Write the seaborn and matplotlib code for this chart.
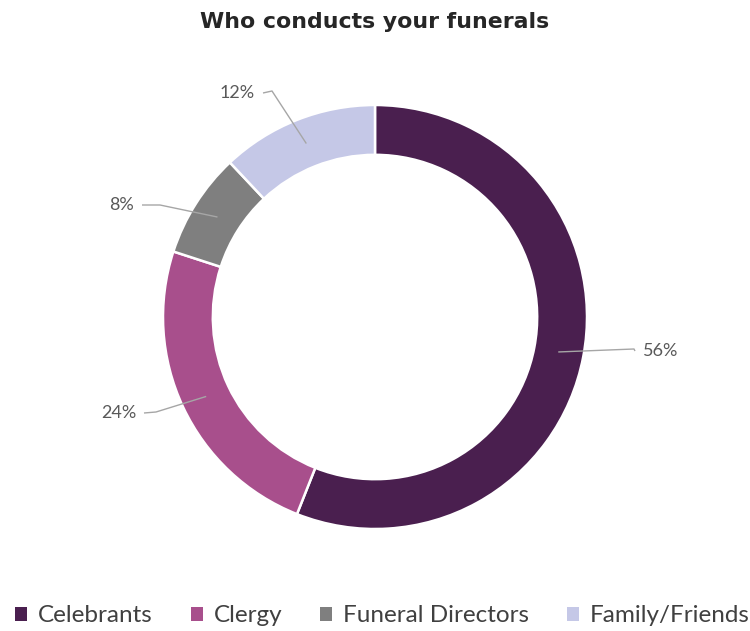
import matplotlib
matplotlib.use("Agg")
import matplotlib.pyplot as plt
import matplotlib.patches as mpatches
import numpy as np
import seaborn as sns

categories = ["Celebrants", "Clergy", "Funeral Directors", "Family/Friends"]
shares = [56, 24, 8, 12]
pct_labels = ["56%", "24%", "8%", "12%"]
colors = ["#4a1f4f", "#a84f8c", "#7f7f7f", "#c5c8e7"]

sns.set_theme(style="white")
label_font = ["Lato", "Liberation Sans", "DejaVu Sans"]
plt.rcParams["font.family"] = label_font

W, H = 750, 631
fig = plt.figure(figsize=(W / 100, H / 100), dpi=100)
fig.patch.set_facecolor("white")

# axes centred on the ring, one data unit = outer radius (212 px)
cx, cy, R, half = 375, 317, 212, 300
ax = fig.add_axes([(cx - half) / W, (H - cy - half) / H, 2 * half / W, 2 * half / H])
lim = half / R

palette = sns.color_palette(colors)
wedges, _ = ax.pie(
    shares,
    colors=palette,
    startangle=90,
    counterclock=False,
    radius=1.0,
    wedgeprops=dict(width=0.235, edgecolor="white", linewidth=1.8),
)
ax.set_xlim(-lim, lim)
ax.set_ylim(-lim, lim)
ax.set_aspect("equal")
ax.set_axis_off()

def px(x, y):
    return (x - cx) / R, (cy - y) / R

# label anchor (pixel), elbow of leader (pixel), text alignment
label_pos = [
    ((643, 351), (634, 349), "left"),
    ((136, 413), (156, 412), "right"),
    ((134, 205), (160, 205), "right"),
    ((255, 93), (272, 91), "right"),
]

total = sum(shares)
cum = 0
for val, txt, (lp, elbow, ha) in zip(shares, pct_labels, label_pos):
    mid = 90 - (cum + val / 2) / total * 360
    cum += val
    r_mid = 0.88
    mx, my = r_mid * np.cos(np.radians(mid)), r_mid * np.sin(np.radians(mid))
    lx, ly = px(*lp)
    ex, ey = px(*elbow)
    sx = lx - 8 / R if ha == "left" else lx + 8 / R
    ax.plot([mx, ex, sx], [my, ey, ly], color="#a6a6a6", lw=1.0, solid_capstyle="butt")
    ax.text(lx, ly, txt, ha=ha, va="center", fontsize=13, color="#595959",
            family=label_font)

fig.text(cx / W, 1 - 22 / H, "Who conducts your funerals", ha="center", va="center",
         fontsize=15.8, fontweight="bold", color="#262626",
         family=["DejaVu Sans"])

handles = [mpatches.Patch(facecolor=c, edgecolor="none", label=l) for c, l in zip(colors, categories)]
leg = fig.legend(handles=handles, loc="center", bbox_to_anchor=(0.51, 1 - 616 / H), ncol=4,
                 frameon=False, fontsize=17.5, handlelength=0.5, handleheight=0.5,
                 handletextpad=0.45, columnspacing=1.55, labelcolor="#404040")

fig.savefig("out.png", dpi=100, facecolor="white")
